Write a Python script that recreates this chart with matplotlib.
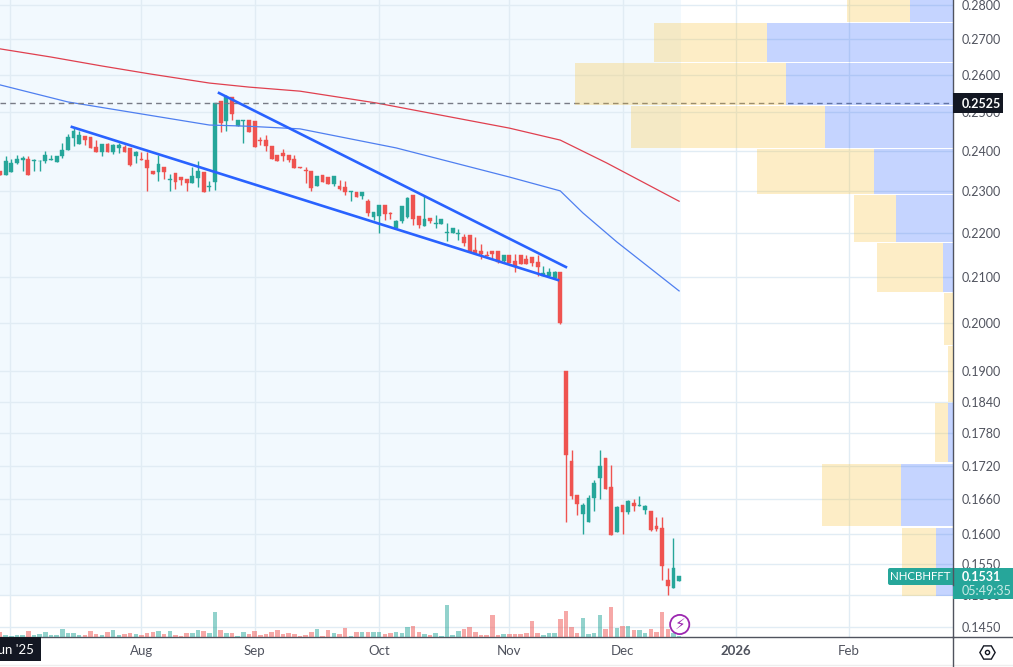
import matplotlib
matplotlib.use("Agg")
import matplotlib.pyplot as plt
from matplotlib.patches import Rectangle, Circle, FancyBboxPatch
from matplotlib.ticker import NullLocator

plt.rcParams["font.family"] = ["Lato", "DejaVu Sans"]

# daily bars
opens = [.2349, .2339, .2346, .2368, .2376, .2379, .2374, .2374, .2374, .2376, .2372, .2387, .2402, .2432, .2417,
         .2437, .2435, .2409, .2397, .2417, .2397, .2407, .2409, .2407, .2387, .2378, .2376, .2349, .2346, .2359,
         .2327, .2344, .2334, .2329, .2319, .2332, .2346, .2310, .2322, .2530, .2477, .2540, .2463, .2477, .2479,
         .2477, .2427, .2427, .2412, .2389, .2394, .2389, .2379, .2359, .2351, .2349, .2312, .2339, .2334, .2317,
         .2312, .2310, .2297, .2297, .2287, .2275, .2237, .2240, .2266, .2247, .2211, .2228, .2237, .2290, .2240,
         .2216, .2235, .2221, .2221, .2200, .2200, .2198, .2191, .2195, .2161, .2158, .2149, .2158, .2158, .2135,
         .2149, .2135, .2149, .2140, .2144, .2133, .2102, .2102, .2098, .2111, .1900, .1728, .1667, .1634, .1620,
         .1662, .1697, .1734, .1681, .1603, .1649, .1637, .1653, .1648, .1641, .1639, .1613, .1610, .1524, .1511,
         .1522]
highs = [.2349, .2387, .2379, .2389, .2387, .2387, .2379, .2376, .2399, .2389, .2387, .2419, .2443, .2461, .2451,
         .2437, .2435, .2427, .2417, .2419, .2417, .2419, .2414, .2407, .2399, .2397, .2397, .2349, .2389, .2359,
         .2341, .2344, .2334, .2329, .2359, .2374, .2346, .2324, .2525, .2530, .2546, .2540, .2479, .2479, .2479,
         .2477, .2435, .2440, .2412, .2389, .2404, .2389, .2389, .2359, .2359, .2349, .2336, .2339, .2334, .2336,
         .2327, .2324, .2300, .2297, .2297, .2280, .2249, .2266, .2266, .2249, .2230, .2263, .2285, .2290, .2240,
         .2290, .2235, .2242, .2232, .2223, .2211, .2208, .2198, .2195, .2191, .2175, .2158, .2158, .2158, .2149,
         .2149, .2151, .2149, .2149, .2144, .2149, .2124, .2120, .2113, .2111, .1900, .1748, .1667, .1653, .1667,
         .1694, .1748, .1734, .1721, .1648, .1649, .1658, .1660, .1665, .1649, .1639, .1629, .1629, .1543, .1593,
         .1531]
lows = [.2339, .2339, .2346, .2366, .2349, .2339, .2349, .2349, .2369, .2376, .2372, .2381, .2402, .2412, .2417,
        .2414, .2407, .2397, .2387, .2397, .2392, .2394, .2397, .2361, .2369, .2376, .2300, .2341, .2324, .2329,
        .2300, .2305, .2315, .2300, .2319, .2310, .2297, .2300, .2302, .2448, .2451, .2479, .2463, .2419, .2448,
        .2409, .2414, .2399, .2379, .2374, .2374, .2372, .2356, .2356, .2319, .2300, .2312, .2322, .2317, .2312,
        .2302, .2290, .2275, .2285, .2280, .2240, .2230, .2200, .2230, .2232, .2208, .2223, .2235, .2218, .2211,
        .2216, .2223, .2211, .2221, .2181, .2200, .2184, .2170, .2156, .2153, .2140, .2147, .2140, .2131, .2131,
        .2131, .2111, .2129, .2129, .2124, .2102, .2102, .2102, .2098, .1998, .1620, .1660, .1632, .1600, .1620,
        .1639, .1660, .1678, .1598, .1603, .1600, .1634, .1639, .1648, .1634, .1605, .1605, .1524, .1500, .1511,
        .1522]
closes = [.2339, .2374, .2369, .2379, .2381, .2339, .2376, .2375, .2389, .2378, .2387, .2402, .2435, .2451, .2440,
          .2427, .2407, .2397, .2417, .2397, .2414, .2414, .2397, .2364, .2397, .2376, .2356, .2341, .2366, .2346,
          .2329, .2322, .2327, .2319, .2336, .2349, .2297, .2312, .2525, .2471, .2540, .2495, .2479, .2479, .2448,
          .2409, .2424, .2412, .2379, .2374, .2387, .2376, .2356, .2356, .2349, .2307, .2336, .2322, .2317, .2336,
          .2305, .2297, .2300, .2285, .2297, .2247, .2249, .2266, .2244, .2244, .2228, .2263, .2282, .2232, .2218,
          .2232, .2228, .2223, .2232, .2202, .2211, .2200, .2177, .2156, .2153, .2151, .2147, .2151, .2133, .2149,
          .2131, .2124, .2129, .2129, .2131, .2122, .2109, .2111, .2111, .2000, .1739, .1665, .1651, .1649, .1662,
          .1688, .1719, .1678, .1598, .1646, .1637, .1656, .1648, .1649, .1648, .1606, .1608, .1546, .1514, .1544,
          .1531]
volumes = [5.3, 2.3, 1.3, 2.3, 2.3, 6.3, 2.3, 3.3, 5.3, 2.3, 2.3, 8.3, 4.3, 4.3, 2.3,
           2.3, 6.3, 3.3, 2.3, 5.3, 7.3, 2.3, 3.3, 4.3, 3.3, 2.3, 4.3, 5.3, 6.3, 3.3,
           6.3, 2.3, 1.3, 4.3, 4.3, 7.3, 6.3, 4.3, 25.3, 7.3, 4.3, 4.3, 1.3, 5.3, 3.3,
           6.3, 2.3, 3.3, 5.3, 7.3, 3.3, 4.3, 3.3, 1.3, 2.3, 5.3, 8.3, 1.3, 7.3, 4.3,
           3.3, 9.3, 1.3, 5.3, 5.3, 5.3, 5.3, 5.3, 3.3, 4.3, 5.3, 4.3, 10.3, 11.3, 5.3,
           3.3, 2.3, 4.3, 1.3, 32.3, 2.3, 6.3, 8.3, 10.3, 5.3, 2.3, 2.3, 22.3, 2.3, 3.3,
           3.3, 3.3, 3.3, 4.3, 16.3, 4.3, 2.3, 4.3, 4.3, 18.3, 26.3, 10.3, 4.3, 19.3, 3.3,
           4.3, 22.3, 8.3, 30.3, 9.3, 11.3, 11.3, 7.3, 7.3, 4.3, 8.3, 5.3, 25.3, 8.3, 4.3,
           1.3]

# moving averages
ma_blue_x = [0, 12, 37, 43.6, 53, 70, 90, 99, 103, 109, 120]
ma_blue = [.2573, .2527, .2466, .2463, .2456, .2407, .2334, .2300, .2247, .2179, .2069]
ma_red_x = [0, 9, 18, 26.5, 37, 44, 53, 66.6, 90, 99, 107.2, 120]
ma_red = [.2673, .2650, .2625, .2603, .2578, .2567, .2556, .2524, .2458, .2427, .2369, .2275]

# hand drawn trendlines
trend_low_x = [12.7, 98.6]
trend_low = [.2461, .2093]
trend_up_x = [38.7, 100]
trend_up = [.2551, .2122]

# visible range volume profile
vp_edges = [.2863, .2749, .2636, .2519, .2407, .2292, .2179, .2067, .1954, .1840, .1726, .1613, .1498]
vp_up = [43, 186, 167, 128, 79, 57, 10, 0, 0, 5, 52, 17]
vp_down = [63, 113, 211, 194, 117, 42, 66, 9, 5, 13, 79, 34]

price_ticks = [.28, .27, .26, .25, .24, .23, .22, .21, .20, .19, .184, .178, .172, .166, .16, .155, .15, .145]
time_ticks = [1.8, 25, 45, 67, 90, 110, 130, 150]
time_labels = ["", "Aug", "Sep", "Oct", "Nov", "Dec", "2026", "Feb"]
last_price = .1531
ref_price = .2525

green = "#26a69a"
red = "#ef5350"
grid_col = "#e1ecf4"
axis_col = "#50535e"
text_col = "#50535e"

W, H = 1013, 667
fig = plt.figure(figsize=(W / 100, H / 100), dpi=100, facecolor="white")
pos = [0, 30 / H, 953 / W, 637 / H]
ax = fig.add_axes(pos)
ax.set_yscale("log")
ax.set_xlim(0, 168.4)
ax.set_ylim(.14346, .28148)

# session background
ax.add_patch(Rectangle((0, .15), 120.3, .14, facecolor="#f2f9fe", edgecolor="none", zorder=0.2))

ax.set_axisbelow(True)
ax.grid(True, color=grid_col, lw=1)
ax.yaxis.tick_right()
ax.yaxis.set_minor_locator(NullLocator())
ax.set_yticks(price_ticks)
ax.set_yticklabels(["%.4f" % p for p in price_ticks])
ax.set_xticks(time_ticks)
ax.set_xticklabels(time_labels)
ax.xaxis.set_minor_locator(NullLocator())
ax.tick_params(axis="y", length=0, pad=6.5, labelsize=9, labelcolor=text_col)
ax.tick_params(axis="x", length=0, pad=5.5, labelsize=9.5, labelcolor=text_col)
ax.get_xticklabels()[6].set_fontweight("bold")
for s in ["top", "left"]:
    ax.spines[s].set_visible(False)
for s in ["right", "bottom"]:
    ax.spines[s].set_color(axis_col)
    ax.spines[s].set_linewidth(1)

# candles
xs = list(range(len(closes)))
cols = [green if c >= o else red for o, c in zip(opens, closes)]
ax.vlines(xs, lows, highs, colors=cols, lw=1, zorder=3)
body_low = [min(o, c) for o, c in zip(opens, closes)]
body_h = [abs(o - c) for o, c in zip(opens, closes)]
ax.bar(xs, body_h, bottom=body_low, width=0.68, color=cols, edgecolor=cols, lw=0.3, zorder=3)

ax.plot(ma_blue_x, ma_blue, color="#4f7ff0", lw=0.9, zorder=4)
ax.plot(ma_red_x, ma_red, color="#e0404f", lw=0.9, zorder=4)
ax.plot(trend_low_x, trend_low, color="#2962ff", lw=1.9, zorder=5)
ax.plot(trend_up_x, trend_up, color="#2962ff", lw=1.9, zorder=5)
ax.axhline(ref_price, color="#787b86", lw=1, dashes=(4, 3), zorder=4)

# volume pane
ax_vol = fig.add_axes(pos, frameon=False)
ax_vol.set_xlim(0, 168.4)
ax_vol.set_ylim(0, 637)
ax_vol.axis("off")
ax_vol.bar(xs, volumes, width=0.8, color=cols, alpha=0.5, lw=0)

# volume profile, grows from the right edge
ax_vp = fig.add_axes(pos, frameon=False, sharey=ax)
ax_vp.set_xlim(953, 0)
ax_vp.axis("off")
for k in range(len(vp_up)):
    top, bot = vp_edges[k], vp_edges[k + 1]
    h = (top - bot) * 0.975
    ax_vp.barh(bot, vp_up[k], height=h, align="edge", color="#2962ff", alpha=0.27, lw=0)
    ax_vp.barh(bot, vp_down[k], height=h, left=vp_up[k], align="edge", color="#fbc02d", alpha=0.27, lw=0)

# labels and icons on top, in figure pixels
ov = fig.add_axes([0, 0, 1, 1], frameon=False)
ov.set_xlim(0, W)
ov.set_ylim(H, 0)
ov.axis("off")
ov.plot([953, W], [637, 637], color=axis_col, lw=1)
ov.plot([0, W], [665, 665], color="#eeeeee", lw=1)
ov.plot([953, 953], [637, H], color=axis_col, lw=1)

ov.add_patch(Rectangle((0, 637), 41, 24, facecolor="#131722", edgecolor="none"))
ov.text(13, 650, "Jun '25", color="white", fontsize=9.5, ha="center", va="center")

ov.add_patch(Rectangle((953, 93), 50, 20, facecolor="#131722", edgecolor="none"))
ov.text(962, 103.5, "%.4f" % ref_price, color="white", fontsize=9, fontweight="bold", va="center")

ov.add_patch(FancyBboxPatch((888, 568), 70, 17, boxstyle="round,pad=0,rounding_size=2", facecolor=green, edgecolor="none"))
ov.add_patch(Rectangle((953, 568), 60, 31, facecolor=green, edgecolor="none"))
ov.plot([953, 953], [568, 585], color=axis_col, lw=1)
ov.text(920, 577, "NHCBHFFT", color="white", fontsize=8.3, ha="center", va="center")
ov.text(962, 577, "%.4f" % last_price, color="white", fontsize=9, fontweight="bold", va="center")
ov.text(962, 591, "05:49:35", color="#c8ebe6", fontsize=9, va="center")

ov.add_patch(Circle((679.7, 624.5), 9.6, facecolor="white", edgecolor="#9c27b0", lw=1.3))
ov.text(679.7, 624.5, "\u26a1", color="#9c27b0", fontsize=11, ha="center", va="center", family="DejaVu Sans")

ov.plot([986.5], [652], marker="H", ms=11, mfc="white", mec="#131722", mew=1)
ov.plot([986.5], [652], marker="o", ms=3, mfc="white", mec="#131722", mew=1)

fig.savefig("out.png", dpi=100, facecolor="white")
